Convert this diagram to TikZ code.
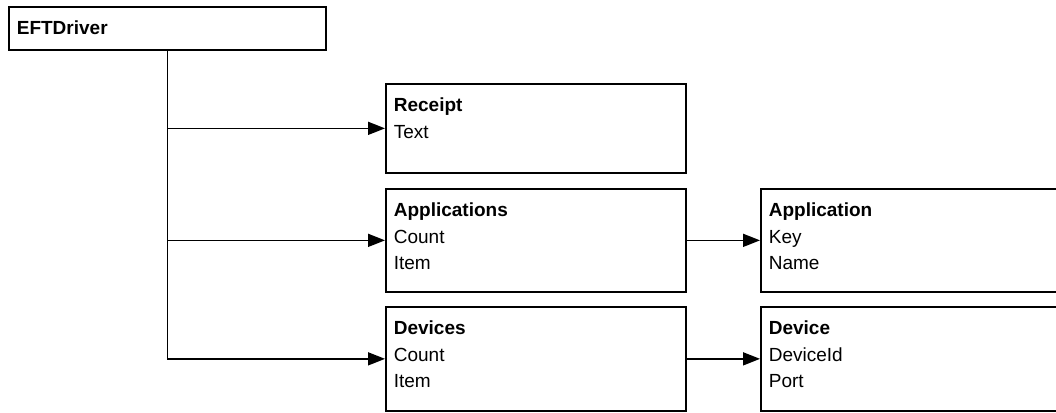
\documentclass[tikz,border=0pt]{standalone}
\usepackage{fontspec}
\setmainfont{Liberation Sans}
\usetikzlibrary{arrows.meta}
\newcommand{\boxfont}{\fontsize{19}{26.5}\selectfont}
\tikzset{
    classbox/.style={draw, line width=1.7pt, anchor=north west, align=left,
        inner xsep=8pt, inner ysep=14pt, text height=14pt, text depth=#1,
        text width=284pt, font=\boxfont},
    link/.style={line width=1.7pt, -{Triangle[length=17pt,width=13pt]}}
}

\begin{document}
\begin{tikzpicture}[x=1pt, y=-1pt]
    \useasboundingbox (0,0) rectangle (1056,412);
    \clip (0,0) rectangle (1056,412);

    \node[classbox=1pt, text width=301pt] (driver) at (8,6) {\textbf{EFTDriver}};
    \node[classbox=47pt] (receipt) at (385,83) {\textbf{Receipt}\\Text};
    \node[classbox=61pt] (apps) at (385,188) {\textbf{Applications}\\Count\\Item};
    \node[classbox=62pt] (devs) at (385,306) {\textbf{Devices}\\Count\\Item};
    \node[classbox=61pt] (app) at (760,188) {\textbf{Application}\\Key\\Name};
    \node[classbox=62pt] (dev) at (760,306) {\textbf{Device}\\DeviceId\\Port};

    % trunk and branches
    \draw[link] (driver.south) |- (devs.west);
    \draw[link] (driver.south |- receipt.west) -- (receipt.west);
    \draw[link] (driver.south |- apps.west) -- (apps.west);
    \draw[link] (apps.east) -- (app.west);
    \draw[link] (devs.east) -- (dev.west);
\end{tikzpicture}
\end{document}
